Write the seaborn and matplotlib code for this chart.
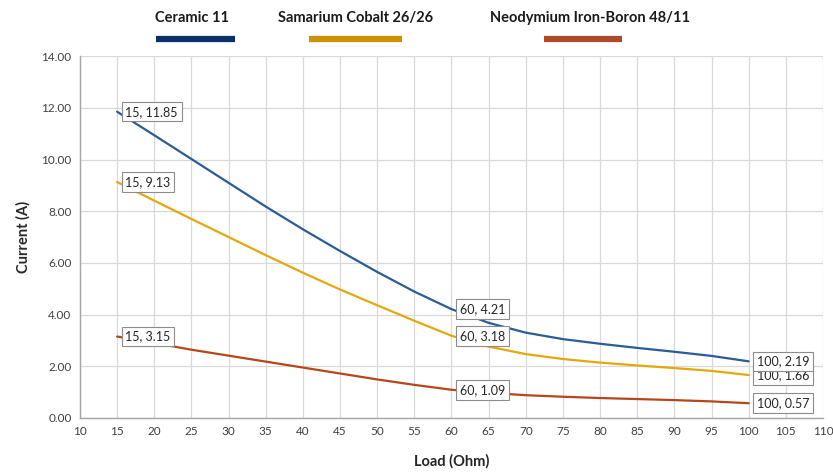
import matplotlib
matplotlib.use("Agg")
import matplotlib.pyplot as plt
from matplotlib.lines import Line2D
import seaborn as sns
import pandas as pd

load_ohm = [15, 20, 25, 30, 35, 40, 45, 50, 55, 60, 65, 70, 75, 80, 85, 90, 95, 100]
ceramic = [11.85, 10.94, 10.02, 9.10, 8.18, 7.30, 6.46, 5.65, 4.89, 4.21,
           3.68, 3.30, 3.05, 2.87, 2.71, 2.56, 2.40, 2.19]
samarium = [9.13, 8.41, 7.70, 7.00, 6.30, 5.62, 4.97, 4.36, 3.76, 3.18,
            2.76, 2.47, 2.28, 2.14, 2.03, 1.93, 1.82, 1.66]
neodymium = [3.15, 2.90, 2.64, 2.41, 2.18, 1.95, 1.72, 1.49, 1.28, 1.09,
             0.97, 0.88, 0.82, 0.77, 0.73, 0.69, 0.64, 0.57]
series_names = ["Ceramic 11", "Samarium Cobalt 26/26", "Neodymium Iron-Boron 48/11"]
label_x = [15, 60, 100]
x_ticks = list(range(10, 111, 5))
y_ticks = [0, 2, 4, 6, 8, 10, 12, 14]

line_colors = ["#2A5C96", "#E3A80C", "#B8461A"]
legend_colors = ["#0B3069", "#CC9000", "#AE4A2C"]

sns.set_theme(style="whitegrid")
plt.rcParams["font.family"] = ["Lato", "DejaVu Sans"]

df = pd.DataFrame({"Load": load_ohm * 3,
                   "Current": ceramic + samarium + neodymium,
                   "Series": [series_names[0]] * len(load_ohm)
                             + [series_names[1]] * len(load_ohm)
                             + [series_names[2]] * len(load_ohm)})

fig = plt.figure(figsize=(8.33, 4.76), dpi=100)
ax = fig.add_axes([0.096, 0.122, 0.892, 0.760])
sns.lineplot(data=df, x="Load", y="Current", hue="Series", palette=line_colors,
             linewidth=1.6, legend=False, ax=ax, sort=True)

ax.set_xlim(10, 110)
ax.set_ylim(0, 14)
ax.set_xticks(x_ticks)
ax.set_yticks(y_ticks)
ax.set_yticklabels([f"{v:.2f}" for v in y_ticks])
ax.tick_params(axis="both", labelsize=8.5, colors="#404040", length=0, pad=6)
ax.grid(True, color="#D9D9D9", linewidth=0.9)
for s in ["top", "right"]:
    ax.spines[s].set_visible(False)
for s in ["left", "bottom"]:
    ax.spines[s].set_color("#A6A6A6")
    ax.spines[s].set_linewidth(1.0)
ax.set_xlabel("Load (Ohm)", fontsize=10.5, fontweight="bold", labelpad=12)
ax.set_ylabel("Current (A)", fontsize=10.5, fontweight="bold", labelpad=8)

# data labels
all_series = [ceramic, samarium, neodymium]
z = {0: 6, 1: 5, 2: 6}
for si, vals in enumerate(all_series):
    for xv in label_x:
        yv = vals[load_ohm.index(xv)]
        ax.annotate(f"{xv}, {yv:.2f}", xy=(xv, yv), xytext=(6, 0),
                    textcoords="offset points", ha="left", va="center",
                    fontsize=9, color="#262626", zorder=z[si],
                    bbox=dict(boxstyle="square,pad=0.3", fc="white",
                              ec="#8C8C8C", lw=0.8),
                    annotation_clip=False)

# legend: label above colored bar
legend_text_x = [0.186, 0.334, 0.588]
bar_x = [(0.187, 0.282), (0.371, 0.483), (0.653, 0.747)]
for i, name in enumerate(series_names):
    fig.text(legend_text_x[i], 0.962, name, fontsize=10.5, fontweight="bold",
             color="#1a1a1a", ha="left", va="center")
    fig.add_artist(Line2D(list(bar_x[i]), [0.919, 0.919], color=legend_colors[i],
                          linewidth=4.5, solid_capstyle="butt"))

fig.savefig("out.png", dpi=100)
